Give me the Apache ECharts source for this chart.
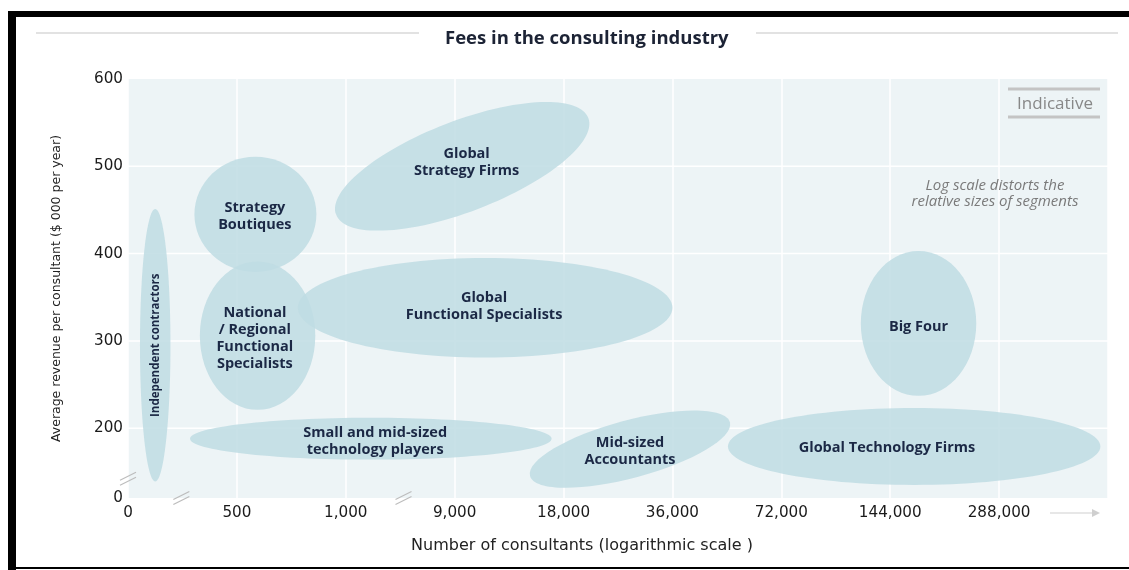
<!DOCTYPE html>
<html><head><meta charset="utf-8">
<script src="https://cdn.jsdelivr.net/npm/echarts@6/dist/echarts.min.js"></script>
<style>html,body{margin:0;padding:0;background:#fff;}#chart{width:1129px;height:570px;}</style>
</head><body><div id="chart"></div>
<script>
// Tick labels of the (logarithmic, broken) consultants axis, one per grid step
const xTickLabels = ['0', '500', '1,000', '9,000', '18,000', '36,000', '72,000', '144,000', '288,000'];
// Revenue axis ticks ($000 per year); the lowest tick sits at the axis break and reads "0"
const yTickValues = [120, 200, 300, 400, 500, 600];
const yTickLabels = ['0', '200', '300', '400', '500', '600'];
const yGridValues = [200, 300, 400, 500];

// Segments: centre on the consultants axis (tick-step units), centre revenue, half-widths, tilt
const segmentNames = ['Independent contractors', 'Strategy\nBoutiques', 'National\n/ Regional\nFunctional\nSpecialists',
  'Global\nStrategy Firms', 'Global\nFunctional Specialists', 'Small and mid-sized\ntechnology players',
  'Mid-sized\nAccountants', 'Global Technology Firms', 'Big Four'];
const centerX = [0.25, 1.17, 1.19, 3.07, 3.28, 2.23, 4.61, 7.22, 7.26];
const centerY = [295, 445, 306, 500, 338, 188, 176, 179, 320];
const radiusX = [0.14, 0.56, 0.53, 1.24, 1.72, 1.66, 0.95, 1.71, 0.53];
const radiusY = [156, 66, 85, 52, 57, 24, 33, 44, 83];
const tiltDeg = [0, 0, 0, 21, 0, 0, 15, 0, 0];
const labelX = [0.25, 1.165, 1.165, 3.11, 3.27, 2.27, 4.61, 6.97, 7.26];
const labelY = [295, 443, 303, 504, 339, 185, 173, 177, 316];
const labelRotate = [90, 0, 0, 0, 0, 0, 0, 0, 0];

// Axis-break marks ("//") positions
const breakX = [0, 0.49, 2.53];
const breakY = [142, 120, 120];

const chart = echarts.init(document.getElementById('chart'));

const ellipseData = segmentNames.map((n, i) => [centerX[i], centerY[i], radiusX[i], radiusY[i], tiltDeg[i]]);
const labelData = segmentNames.map((n, i) => [labelX[i], labelY[i], i]);
const breakData = breakX.map((x, i) => [x, breakY[i]]);
const X_MIN = 0, X_MAX = 9;

chart.setOption({
  animation: false,
  backgroundColor: '#ffffff',
  title: {
    text: 'Fees in the consulting industry',
    left: 440, top: 24,
    textStyle: { fontFamily: 'Open Sans', fontWeight: 'bold', fontSize: 18.5, color: '#1c2335' }
  },
  grid: { left: 128, right: 21, top: 79, bottom: 72, show: true, backgroundColor: '#edf4f6', borderWidth: 0 },
  xAxis: {
    type: 'value', min: X_MIN, max: X_MAX, interval: 1,
    axisLine: { show: false }, axisTick: { show: false },
    splitLine: { show: true, lineStyle: { color: '#ffffff', width: 1.5 } },
    axisLabel: {
      margin: 8, fontFamily: 'DejaVu Sans', fontSize: 15.2, color: '#1a1a1a',
      formatter: v => (xTickLabels[v] !== undefined ? xTickLabels[v] : '')
    },
    name: 'Number of consultants (logarithmic scale )',
    nameLocation: 'middle', nameGap: 40,
    nameTextStyle: { fontFamily: 'DejaVu Sans', fontSize: 16, color: '#222', padding: [0, 72, 0, 0] }
  },
  yAxis: {
    type: 'value', min: 120, max: 600,
    axisLine: { show: false }, axisTick: { show: false }, splitLine: { show: false },
    axisLabel: {
      customValues: yTickValues, margin: 5, fontFamily: 'DejaVu Sans', fontSize: 15.2,
      color: v => (v === yTickValues[0] ? '#666' : '#1a1a1a'),
      formatter: v => { const k = yTickValues.indexOf(v); return k >= 0 ? yTickLabels[k] : ''; }
    },
    name: 'Average revenue per consultant ($ 000 per year)',
    nameLocation: 'middle', nameGap: 65,
    nameTextStyle: { fontFamily: 'DejaVu Sans', fontSize: 12.5, color: '#222' }
  },
  series: [
    {
      name: 'gridlines', type: 'custom', z: 1, silent: true, data: yGridValues,
      renderItem: (params, api) => {
        const a = api.coord([X_MIN, api.value(0)]);
        const b = api.coord([X_MAX, api.value(0)]);
        return { type: 'line', shape: { x1: a[0], y1: a[1], x2: b[0], y2: b[1] },
          style: { stroke: '#ffffff', lineWidth: 1.5 } };
      }
    },
    {
      name: 'segments', type: 'custom', z: 2, silent: true, data: ellipseData,
      renderItem: (params, api) => {
        const c = api.coord([api.value(0), api.value(1)]);
        const s = api.size([api.value(2), api.value(3)], [api.value(0), api.value(1)]);
        return {
          type: 'ellipse', x: c[0], y: c[1], rotation: api.value(4) * Math.PI / 180,
          shape: { cx: 0, cy: 0, rx: s[0], ry: s[1] },
          style: { fill: '#bfdce3', opacity: 0.86 }
        };
      }
    },
    {
      name: 'labels', type: 'custom', z: 3, silent: true, data: labelData,
      renderItem: (params, api) => {
        const c = api.coord([api.value(0), api.value(1)]);
        const i = api.value(2);
        const vertical = labelRotate[i] !== 0;
        return {
          type: 'text', x: c[0], y: c[1], rotation: labelRotate[i] * Math.PI / 180,
          style: {
            text: segmentNames[i], align: 'center', verticalAlign: 'middle',
            fontFamily: 'Open Sans', fontWeight: 'bold', fontSize: vertical ? 11.5 : 14.5,
            lineHeight: 17, fill: '#1b2845'
          }
        };
      }
    },
    {
      name: 'breaks', type: 'custom', z: 4, silent: true, clip: false, data: breakData,
      renderItem: (params, api) => {
        const c = api.coord([api.value(0), api.value(1)]);
        const mk = d => ({ type: 'line', shape: { x1: c[0] - 8, y1: c[1] + 4 + d, x2: c[0] + 8, y2: c[1] - 4 + d },
          style: { stroke: '#bcbcbc', lineWidth: 1.2 } });
        return { type: 'group', children: [mk(-2.5), mk(2.5)] };
      }
    }
  ],
  graphic: [
    { type: 'rect', z: 10, shape: { x: 8, y: 11, width: 1121, height: 6 }, style: { fill: '#000' } },
    { type: 'rect', z: 10, shape: { x: 8, y: 11, width: 8, height: 559 }, style: { fill: '#000' } },
    { type: 'rect', z: 10, shape: { x: 8, y: 567, width: 1121, height: 2 }, style: { fill: '#000' } },
    { type: 'line', z: 10, shape: { x1: 36, y1: 33, x2: 419, y2: 33 }, style: { stroke: '#d8d8d8', lineWidth: 1.5 } },
    { type: 'line', z: 10, shape: { x1: 756, y1: 33, x2: 1118, y2: 33 }, style: { stroke: '#d8d8d8', lineWidth: 1.5 } },
    { type: 'line', z: 10, shape: { x1: 1008, y1: 89, x2: 1100, y2: 89 }, style: { stroke: '#c4c4c4', lineWidth: 3 } },
    { type: 'line', z: 10, shape: { x1: 1008, y1: 117, x2: 1100, y2: 117 }, style: { stroke: '#c4c4c4', lineWidth: 3 } },
    { type: 'text', z: 10, x: 1055, y: 104, style: { text: 'Indicative', align: 'center', verticalAlign: 'middle',
      fontFamily: 'Open Sans', fontSize: 17, fill: '#888' } },
    { type: 'text', z: 10, x: 995, y: 194, style: { text: 'Log scale distorts the\nrelative sizes of segments', align: 'center',
      verticalAlign: 'middle', fontFamily: 'Open Sans', fontStyle: 'italic', fontSize: 15, lineHeight: 16, fill: '#7a7a7a' } },
    { type: 'line', z: 10, shape: { x1: 1050, y1: 513, x2: 1092, y2: 513 }, style: { stroke: '#cfcfcf', lineWidth: 1.2 } },
    { type: 'polygon', z: 10, shape: { points: [[1092, 509], [1100, 513], [1092, 517]] }, style: { fill: '#cfcfcf' } }
  ]
});
</script></body></html>
